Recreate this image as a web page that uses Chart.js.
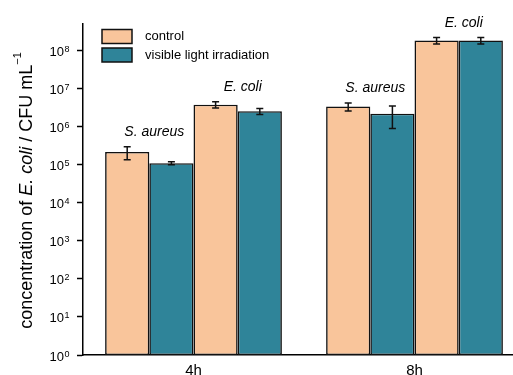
<!DOCTYPE html>
<html>
<head>
<meta charset="utf-8">
<script src="https://cdn.jsdelivr.net/npm/chart.js@4/dist/chart.umd.min.js"></script>
<style>
  html, body { margin: 0; padding: 0; background: #fff; overflow: hidden; }
  #wrap { width: 513px; height: 375px; overflow: hidden; }
  canvas { display: block; }
</style>
</head>
<body>
<div id="wrap"><canvas id="c" width="525" height="375"></canvas></div>
<script>
// Incubation times
const categories = ['4h', '8h'];

// CFU/mL, S. aureus pair and E. coli pair per time point
const controlSAureus = [2.16e5, 3.4e6];
const lightSAureus   = [1.1e5, 2.2e6];
const controlEColi   = [3.8e6, 1.85e8];
const lightEColi     = [2.55e6, 1.85e8];

// Standard deviations
const controlSAureusErr = [8e4, 8e5];
const lightSAureusErr   = [1e4, 1.3e6];
const controlEColiErr   = [7e5, 3.5e7];
const lightEColiErr     = [4.5e5, 3.5e7];

// Decade ticks on the y axis (exponents of 10)
const yExponents = [0, 1, 2, 3, 4, 5, 6, 7, 8];

const seriesNames = ['control', 'visible light irradiation'];
const speciesNames = ['S. aureus', 'E. coli'];

const PEACH = '#F9C59B';
const TEAL = '#2F8499';
const EDGE = '#111111';
const FONT = '"Liberation Sans", Arial, Helvetica, sans-serif';

Chart.defaults.font.family = FONT;
Chart.defaults.color = '#000';

function barSet(label, data, err, color, species) {
  return {
    label, data, err, species,
    backgroundColor: color,
    borderColor: EDGE,
    borderWidth: 1.6,
    borderSkipped: false,
    barPercentage: 1.0,
    categoryPercentage: 0.8
  };
}

// Error bars drawn from the bar elements and the y scale
const errorBars = {
  id: 'errorBars',
  afterDatasetsDraw(chart) {
    const { ctx } = chart;
    const y = chart.scales.y;
    ctx.save();
    ctx.strokeStyle = '#111';
    ctx.lineWidth = 1.5;
    chart.data.datasets.forEach((ds, i) => {
      const meta = chart.getDatasetMeta(i);
      meta.data.forEach((bar, j) => {
        const v = ds.data[j], e = ds.err[j];
        const yt = y.getPixelForValue(v + e);
        const yb = y.getPixelForValue(Math.max(v - e, 1));
        const x = bar.x, cw = 3.5;
        ctx.beginPath();
        ctx.moveTo(x, yt); ctx.lineTo(x, yb);
        ctx.moveTo(x - cw, yt); ctx.lineTo(x + cw, yt);
        ctx.moveTo(x - cw, yb); ctx.lineTo(x + cw, yb);
        ctx.stroke();
      });
    });
    ctx.restore();
  }
};

// Species names above each pair of bars
const speciesLabels = {
  id: 'speciesLabels',
  afterDatasetsDraw(chart) {
    const { ctx } = chart;
    const y = chart.scales.y;
    ctx.save();
    ctx.font = 'italic 14px ' + FONT;
    ctx.fillStyle = '#000';
    ctx.textAlign = 'center';
    ctx.textBaseline = 'alphabetic';
    for (let p = 0; p < 2; p++) {
      const a = 2 * p, b = 2 * p + 1;
      const da = chart.data.datasets[a], db = chart.data.datasets[b];
      const ma = chart.getDatasetMeta(a), mb = chart.getDatasetMeta(b);
      categories.forEach((_, j) => {
        const xc = (ma.data[j].x + mb.data[j].x) / 2 + 5;
        const top = Math.min(
          y.getPixelForValue(da.data[j] + da.err[j]),
          y.getPixelForValue(db.data[j] + db.err[j])
        );
        ctx.fillText(da.species, xc, top - 11);
      });
    }
    ctx.restore();
  }
};

// Power-of-ten tick labels with raised exponents
const yTickLabels = {
  id: 'yTickLabels',
  afterDraw(chart) {
    const { ctx } = chart;
    const y = chart.scales.y;
    const xr = chart.chartArea.left - 19;
    ctx.save();
    ctx.fillStyle = '#000';
    ctx.textBaseline = 'alphabetic';
    yExponents.forEach(k => {
      const py = y.getPixelForValue(Math.pow(10, k));
      ctx.font = '9px ' + FONT;
      ctx.textAlign = 'left';
      ctx.fillText(String(k), xr + 0.5, py + 1.5);
      ctx.font = '13px ' + FONT;
      ctx.textAlign = 'right';
      ctx.fillText('10', xr, py + 5.5);
    });
    ctx.restore();
  }
};

// Rotated y-axis title with italic species and superscript
const yTitle = {
  id: 'yTitle',
  afterDraw(chart) {
    const { ctx, chartArea } = chart;
    const parts = [
      { t: 'concentration of ', f: '18px ' + FONT, dy: 0 },
      { t: 'E. coli', f: 'italic 18px ' + FONT, dy: 0 },
      { t: ' / CFU mL', f: '18px ' + FONT, dy: 0 },
      { t: '\u22121', f: '11px ' + FONT, dy: -11 }
    ];
    ctx.save();
    let total = 0;
    parts.forEach(p => { ctx.font = p.f; p.w = ctx.measureText(p.t).width; total += p.w; });
    ctx.translate(32, (chartArea.top + chartArea.bottom) / 2 + 1);
    ctx.rotate(-Math.PI / 2);
    ctx.fillStyle = '#000';
    ctx.textAlign = 'left';
    ctx.textBaseline = 'alphabetic';
    let x = -total / 2;
    parts.forEach(p => { ctx.font = p.f; ctx.fillText(p.t, x, p.dy); x += p.w; });
    ctx.restore();
  }
};

// Legend inside the plot, top-left
const insideLegend = {
  id: 'insideLegend',
  afterDraw(chart) {
    const { ctx, chartArea } = chart;
    const x0 = chartArea.left + 19, y0 = chartArea.top + 5.5;
    ctx.save();
    ctx.font = '13px ' + FONT;
    ctx.textBaseline = 'middle';
    ctx.textAlign = 'left';
    [0, 1].forEach(i => {
      const ds = chart.data.datasets[i];
      const by = y0 + i * 18.5;
      ctx.fillStyle = ds.backgroundColor;
      ctx.fillRect(x0, by, 30, 14);
      ctx.strokeStyle = EDGE;
      ctx.lineWidth = 1.5;
      ctx.strokeRect(x0, by, 30, 14);
      ctx.fillStyle = '#000';
      ctx.fillText(ds.label, x0 + 43, by + 7);
    });
    ctx.restore();
  }
};

new Chart(document.getElementById('c'), {
  type: 'bar',
  data: {
    labels: categories,
    datasets: [
      barSet(seriesNames[0], controlSAureus, controlSAureusErr, PEACH, speciesNames[0]),
      barSet(seriesNames[1], lightSAureus, lightSAureusErr, TEAL, speciesNames[0]),
      barSet(seriesNames[0], controlEColi, controlEColiErr, PEACH, speciesNames[1]),
      barSet(seriesNames[1], lightEColi, lightEColiErr, TEAL, speciesNames[1])
    ]
  },
  options: {
    responsive: false,
    animation: false,
    devicePixelRatio: 1,
    layout: { padding: { top: 24, right: 0, left: 0, bottom: 0 } },
    plugins: {
      legend: { display: false },
      tooltip: { enabled: false }
    },
    scales: {
      x: {
        type: 'category',
        grid: { display: false, drawTicks: false },
        border: { display: true, color: '#000', width: 1.5 },
        ticks: { font: { size: 15 }, color: '#000', padding: 7 },
        afterFit(scale) { scale.height = 20; }
      },
      y: {
        type: 'logarithmic',
        min: 1,
        max: 5e8,
        afterBuildTicks(scale) {
          scale.ticks = yExponents.map(k => ({ value: Math.pow(10, k) }));
        },
        grid: {
          display: true,
          drawOnChartArea: false,
          drawTicks: true,
          tickLength: 6,
          tickColor: '#000',
          tickWidth: 1.5
        },
        border: { display: true, color: '#000', width: 1.5 },
        ticks: { display: false },
        afterFit(scale) { scale.width = 83; }
      }
    }
  },
  plugins: [errorBars, speciesLabels, yTickLabels, yTitle, insideLegend]
});
</script>
</body>
</html>
